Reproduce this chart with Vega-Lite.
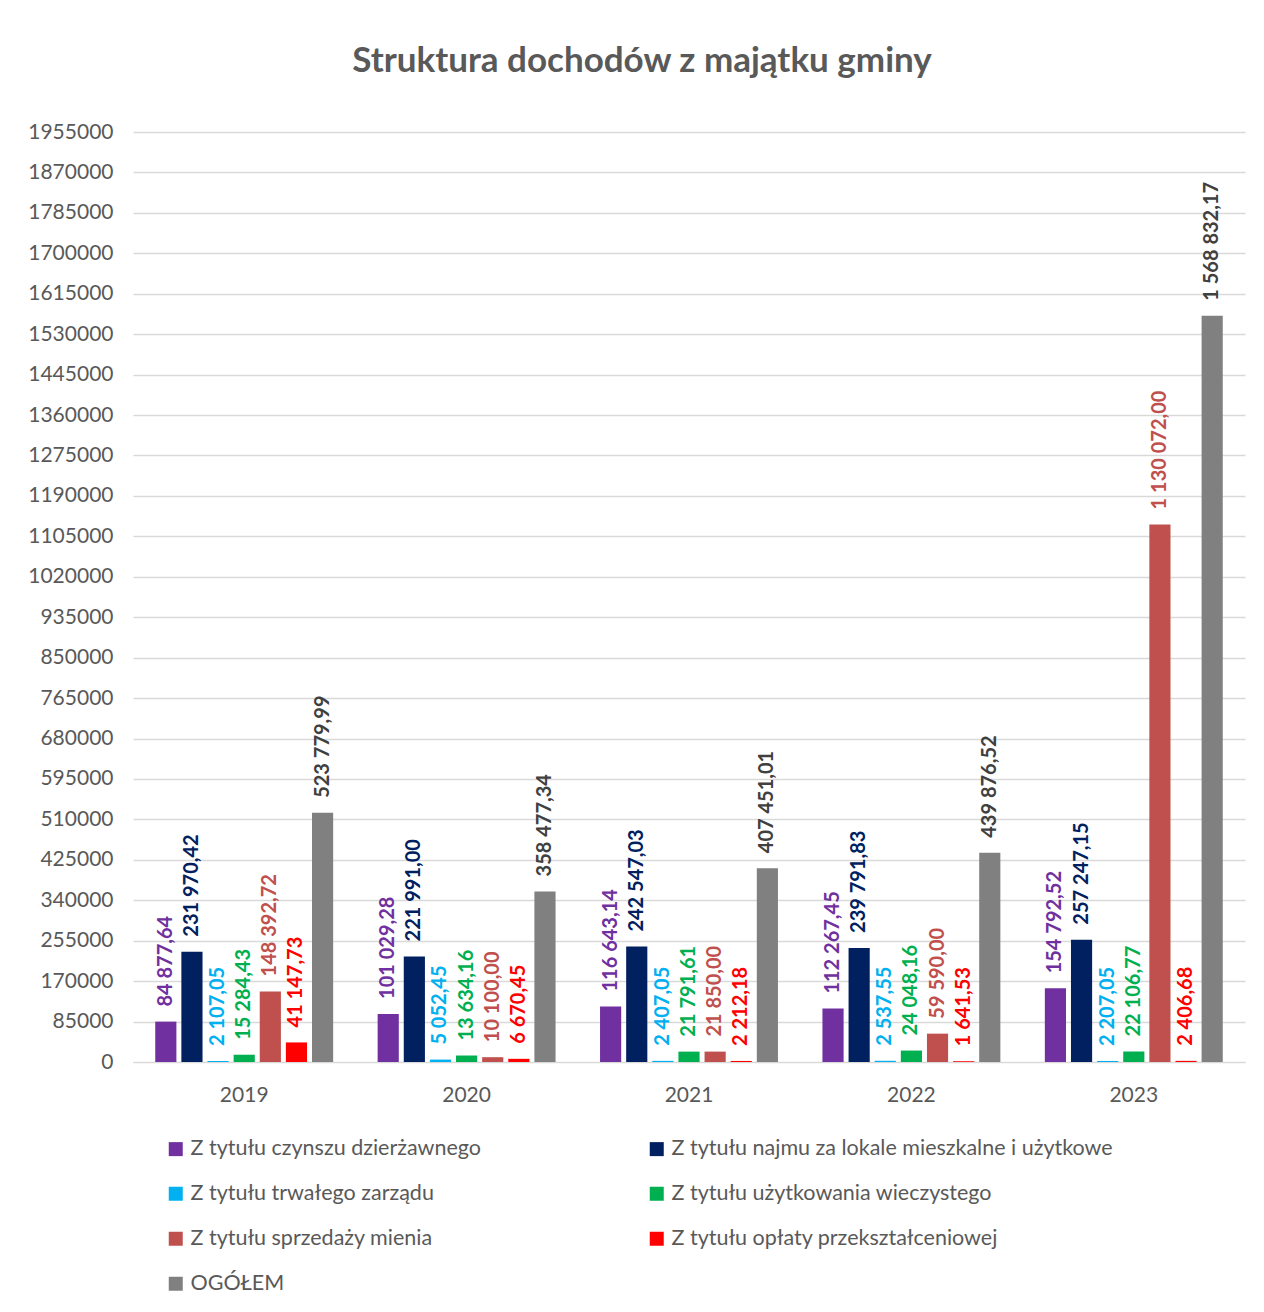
{
  "$schema": "https://vega.github.io/schema/vega-lite/v6.json",
  "autosize": {"type": "none"},
  "padding": {"left": 133, "top": 132, "right": 19, "bottom": 250},
  "width": 1112,
  "height": 930,
  "background": "white",
  "config": {
    "font": "Lato",
    "view": {"stroke": null},
    "locale": {"number": {"decimal": ",", "thousands": " ", "grouping": [3], "currency": ["", " zł"]}}
  },
  "title": {
    "text": "Struktura dochodów z majątku gminy",
    "font": "Lato",
    "fontSize": 35,
    "fontWeight": "bold",
    "color": "#595959",
    "anchor": "middle",
    "dx": -47,
    "offset": 42
  },
  "data": {
    "values": [
      {"year": "2019", "series": "Z tytułu czynszu dzierżawnego", "value": 84877.64},
      {"year": "2019", "series": "Z tytułu najmu za lokale mieszkalne i użytkowe", "value": 231970.42},
      {"year": "2019", "series": "Z tytułu trwałego zarządu", "value": 2107.05},
      {"year": "2019", "series": "Z tytułu użytkowania wieczystego", "value": 15284.43},
      {"year": "2019", "series": "Z tytułu sprzedaży mienia", "value": 148392.72},
      {"year": "2019", "series": "Z tytułu opłaty przekształceniowej", "value": 41147.73},
      {"year": "2019", "series": "OGÓŁEM", "value": 523779.99},
      {"year": "2020", "series": "Z tytułu czynszu dzierżawnego", "value": 101029.28},
      {"year": "2020", "series": "Z tytułu najmu za lokale mieszkalne i użytkowe", "value": 221991.00},
      {"year": "2020", "series": "Z tytułu trwałego zarządu", "value": 5052.45},
      {"year": "2020", "series": "Z tytułu użytkowania wieczystego", "value": 13634.16},
      {"year": "2020", "series": "Z tytułu sprzedaży mienia", "value": 10100.00},
      {"year": "2020", "series": "Z tytułu opłaty przekształceniowej", "value": 6670.45},
      {"year": "2020", "series": "OGÓŁEM", "value": 358477.34},
      {"year": "2021", "series": "Z tytułu czynszu dzierżawnego", "value": 116643.14},
      {"year": "2021", "series": "Z tytułu najmu za lokale mieszkalne i użytkowe", "value": 242547.03},
      {"year": "2021", "series": "Z tytułu trwałego zarządu", "value": 2407.05},
      {"year": "2021", "series": "Z tytułu użytkowania wieczystego", "value": 21791.61},
      {"year": "2021", "series": "Z tytułu sprzedaży mienia", "value": 21850.00},
      {"year": "2021", "series": "Z tytułu opłaty przekształceniowej", "value": 2212.18},
      {"year": "2021", "series": "OGÓŁEM", "value": 407451.01},
      {"year": "2022", "series": "Z tytułu czynszu dzierżawnego", "value": 112267.45},
      {"year": "2022", "series": "Z tytułu najmu za lokale mieszkalne i użytkowe", "value": 239791.83},
      {"year": "2022", "series": "Z tytułu trwałego zarządu", "value": 2537.55},
      {"year": "2022", "series": "Z tytułu użytkowania wieczystego", "value": 24048.16},
      {"year": "2022", "series": "Z tytułu sprzedaży mienia", "value": 59590.00},
      {"year": "2022", "series": "Z tytułu opłaty przekształceniowej", "value": 1641.53},
      {"year": "2022", "series": "OGÓŁEM", "value": 439876.52},
      {"year": "2023", "series": "Z tytułu czynszu dzierżawnego", "value": 154792.52},
      {"year": "2023", "series": "Z tytułu najmu za lokale mieszkalne i użytkowe", "value": 257247.15},
      {"year": "2023", "series": "Z tytułu trwałego zarządu", "value": 2207.05},
      {"year": "2023", "series": "Z tytułu użytkowania wieczystego", "value": 22106.77},
      {"year": "2023", "series": "Z tytułu sprzedaży mienia", "value": 1130072.00},
      {"year": "2023", "series": "Z tytułu opłaty przekształceniowej", "value": 2406.68},
      {"year": "2023", "series": "OGÓŁEM", "value": 1568832.17}
    ]
  },
  "encoding": {
    "x": {
      "field": "year", "type": "nominal",
      "scale": {"paddingInner": 0.2, "paddingOuter": 0.1},
      "axis": {
        "title": null, "labelAngle": 0, "ticks": false,
        "domain": true, "domainColor": "#D9D9D9", "domainWidth": 1,
        "labelFont": "Lato", "labelFontSize": 21, "labelColor": "#595959", "labelPadding": 22
      }
    },
    "xOffset": {
      "field": "series", "type": "nominal",
      "scale": {
        "domain": ["Z tytułu czynszu dzierżawnego", "Z tytułu najmu za lokale mieszkalne i użytkowe", "Z tytułu trwałego zarządu", "Z tytułu użytkowania wieczystego", "Z tytułu sprzedaży mienia", "Z tytułu opłaty przekształceniowej", "OGÓŁEM"],
        "paddingInner": 0.19, "paddingOuter": 0
      }
    },
    "y": {
      "field": "value", "type": "quantitative",
      "scale": {"domain": [0, 1955000], "nice": false},
      "axis": {
        "title": null, "format": "d", "domain": false, "ticks": false,
        "values": [0, 85000, 170000, 255000, 340000, 425000, 510000, 595000, 680000, 765000, 850000, 935000, 1020000, 1105000, 1190000, 1275000, 1360000, 1445000, 1530000, 1615000, 1700000, 1785000, 1870000, 1955000],
        "gridColor": "#D9D9D9", "gridWidth": 1.5,
        "labelFont": "Lato", "labelFontSize": 21, "labelColor": "#595959", "labelPadding": 20
      }
    }
  },
  "layer": [
    {
      "mark": {"type": "bar"},
      "encoding": {
        "color": {
          "field": "series", "type": "nominal",
          "scale": {
            "domain": ["Z tytułu czynszu dzierżawnego", "Z tytułu najmu za lokale mieszkalne i użytkowe", "Z tytułu trwałego zarządu", "Z tytułu użytkowania wieczystego", "Z tytułu sprzedaży mienia", "Z tytułu opłaty przekształceniowej", "OGÓŁEM"],
            "range": ["#7030A0", "#002060", "#00B0F0", "#00B050", "#C0504D", "#FF0000", "#808080"]
          },
          "legend": {
            "title": null,
            "orient": "none",
            "legendX": 32,
            "legendY": 1006,
            "direction": "horizontal",
            "columns": 2,
            "columnPadding": 164,
            "rowPadding": 22,
            "padding": 0,
            "symbolType": "square",
            "symbolSize": 196,
            "symbolStrokeWidth": 0,
            "labelFont": "Lato",
            "labelFontSize": 21.5,
            "labelColor": "#595959",
            "labelOffset": 4,
            "labelLimit": 600
          }
        }
      }
    },
    {
      "mark": {"type": "text", "angle": -90, "align": "left", "baseline": "middle", "dx": 15, "font": "Lato", "fontWeight": "bold", "fontSize": 20},
      "encoding": {
        "text": {"field": "value", "type": "quantitative", "format": ",.2f"},
        "color": {
          "condition": {"test": "datum.series === 'OGÓŁEM'", "value": "#404040"},
          "field": "series", "type": "nominal", "legend": null
        }
      }
    }
  ]
}
